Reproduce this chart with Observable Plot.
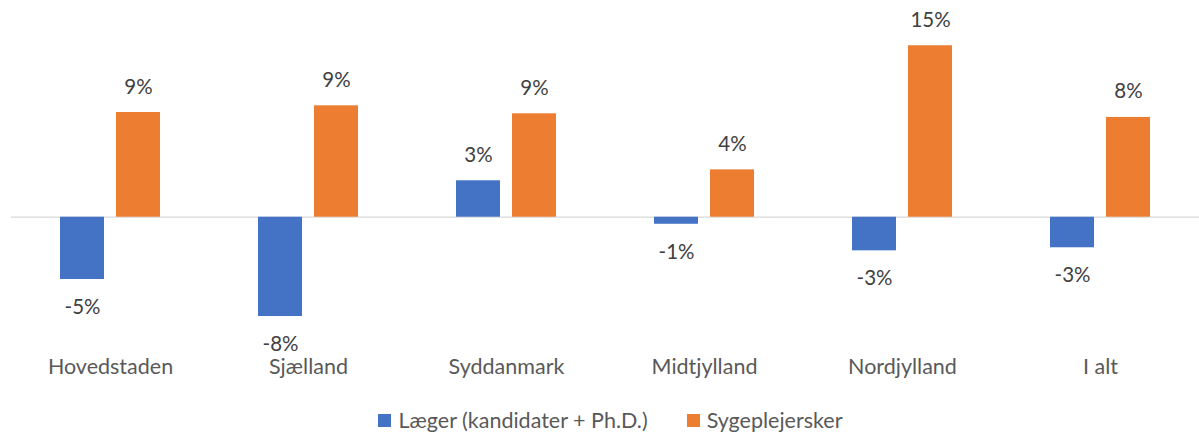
<!DOCTYPE html>
<html><head><meta charset="utf-8">
<script src="https://cdn.jsdelivr.net/npm/d3@7"></script>
<script src="https://cdn.jsdelivr.net/npm/@observablehq/plot@0.6"></script>
<style>
body{margin:0;background:#fff;font-family:Lato,"Noto Sans",sans-serif;}
#legend{height:37px;display:flex;justify-content:center;align-items:center;padding-left:22px;padding-top:13px;box-sizing:border-box;font-size:21.5px;color:#595959;}
.item{display:flex;align-items:center;margin:0 19.5px;}
.sw{width:13px;height:13px;margin-right:7px;}
</style>
</head><body><div id="chart"></div><div id="legend"></div>
<script>
const regions = ["Hovedstaden","Sjælland","Syddanmark","Midtjylland","Nordjylland","I alt"];
const seriesNames = ["Læger (kandidater + Ph.D.)","Sygeplejersker"];
const laeger = [-5.3,-8.45,3.1,-0.6,-2.86,-2.6];
const sygeplejersker = [8.91,9.48,8.8,4.03,14.59,8.49];
const colors = ["#4472C4","#ED7D31"];

const data = [];
regions.forEach((r,i)=>{
  data.push({region:r, series:seriesNames[0], value:laeger[i]});
  data.push({region:r, series:seriesNames[1], value:sygeplejersker[i]});
});
const fmt = v => Math.round(v) + "%";

const chart = Plot.plot({
  width:1199, height:395,
  marginLeft:10, marginRight:0, marginTop:0, marginBottom:45,
  style:{fontFamily:"Lato, 'Noto Sans', sans-serif", color:"#595959", background:"#fff"},
  fx:{domain:regions, padding:0, label:null},
  x:{domain:seriesNames, paddingInner:0.2128, paddingOuter:0.863, axis:null},
  y:{domain:[-11.34,18.44], axis:null},
  color:{domain:seriesNames, range:colors},
  marks:[
    Plot.ruleY([0],{stroke:"#d9d9d9", strokeWidth:1.3}),
    Plot.barY(data,{fx:"region", x:"series", y:"value", fill:"series"}),
    Plot.text(data.filter(d=>d.value>=0),{fx:"region", x:"series", y:"value", text:d=>fmt(d.value), lineAnchor:"bottom", dy:-19, fontSize:20.5, fill:"#404040"}),
    Plot.text(data.filter(d=>d.value<0),{fx:"region", x:"series", y:"value", text:d=>fmt(d.value), lineAnchor:"top", dy:20, fontSize:20.5, fill:"#404040"}),
    Plot.axisFx({anchor:"bottom", tickSize:0, tickPadding:8, fontSize:21.5, label:null, fill:"#595959"})
  ]
});
document.getElementById("chart").appendChild(chart);

const lg = document.getElementById("legend");
seriesNames.forEach((s,i)=>{
  const it = document.createElement("div"); it.className="item";
  const sw = document.createElement("div"); sw.className="sw"; sw.style.background=colors[i];
  const t = document.createElement("span"); t.textContent=s;
  it.appendChild(sw); it.appendChild(t); lg.appendChild(it);
});
</script>
</body></html>
